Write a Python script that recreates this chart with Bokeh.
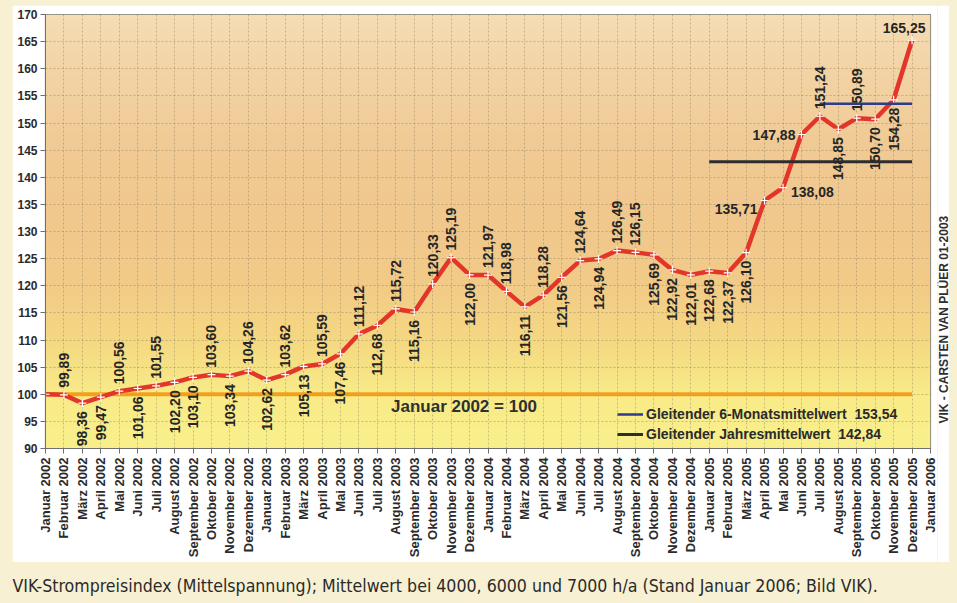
import numpy as np
from math import pi
from bokeh.plotting import figure
from bokeh.models import (ColumnDataSource, FixedTicker, LabelSet, Label, Legend,
                          LegendItem, Range1d)
from bokeh.layouts import column, row
from bokeh.embed import file_html
from bokeh.resources import INLINE
from bokeh.core.properties import value

# ---------------- data ----------------
month_names = ["Januar", "Februar", "März", "April", "Mai", "Juni", "Juli",
               "August", "September", "Oktober", "November", "Dezember"]
years = [2002, 2003, 2004, 2005]
final_tick_label = "Januar 2006"

index_values = [
    100.00, 99.89, 98.36, 99.47, 100.56, 101.06, 101.55, 102.20, 103.10, 103.60, 103.34, 104.26,
    102.62, 103.62, 105.13, 105.59, 107.46, 111.12, 112.68, 115.72, 115.16, 120.33, 125.19, 122.00,
    121.97, 118.98, 116.11, 118.28, 121.56, 124.64, 124.94, 126.49, 126.15, 125.69, 122.92, 122.01,
    122.68, 122.37, 126.10, 135.71, 138.08, 147.88, 151.24, 148.85, 150.89, 150.70, 154.28, 165.25,
]
# where each value label sits: A above, B below, L left, LL lower left, R right, T top, "" none
label_side = [
    "", "A", "B", "B", "A", "B", "A", "B", "B", "A", "B", "A",
    "B", "A", "B", "A", "B", "A", "B", "A", "B", "A", "A", "B",
    "A", "A", "B", "A", "B", "A", "B", "A", "A", "B", "B", "B",
    "B", "B", "B", "LL", "R", "L", "A", "B", "A", "B", "B", "T",
]

base_value = 100
base_label = "Januar 2002 = 100"
avg6_label = "Gleitender 6-Monatsmittelwert"
avg6_value = 153.54
avg6_months = 6
avg12_label = "Gleitender Jahresmittelwert"
avg12_value = 142.84
avg12_months = 12

y_ticks = list(range(90, 171, 5))
credit = "VIK - CARSTEN VAN PLÜER 01-2003"
caption = ("VIK-Strompreisindex (Mittelspannung); Mittelwert bei 4000, 6000 und 7000 h/a "
           "(Stand Januar 2006; Bild VIK).")

# ---------------- derived ----------------
tick_labels = [f"{m} {y}" for y in years for m in month_names] + [final_tick_label]
n = len(index_values)
xs = list(range(n))
fmt = lambda v: f"{v:.2f}".replace(".", ",")

FONT = "Liberation Sans"
CREAM = "#f8f0d2"
x_lo, x_hi = 0, len(tick_labels) - 1
y_lo, y_hi = y_ticks[0], y_ticks[-1]

p = figure(width=925, height=557, x_range=Range1d(x_lo, x_hi), y_range=Range1d(y_lo, y_hi),
           output_backend="svg", toolbar_location=None,
           min_border_left=33, min_border_right=7, min_border_top=9, min_border_bottom=114,
           border_fill_color="white", background_fill_color="#f3d49a",
           margin=(5, 0, 0, 12))

# background gradient of the plot area
stops_v = [90, 100, 110, 120, 130, 145, 160, 170]
stops_c = ["#f8f08c", "#f8eb88", "#f5d882", "#f2cb88", "#f1c88c", "#f0ca94", "#f3d4a6", "#f6ddb4"]
rows = 200
yy = np.linspace(y_lo, y_hi, rows)
rgb = [tuple(int(c[i:i + 2], 16) for i in (1, 3, 5)) for c in stops_c]
img = np.zeros((rows, 1), dtype=np.uint32)
view = img.view(dtype=np.uint8).reshape((rows, 1, 4))
for k in range(3):
    view[:, 0, k] = np.interp(yy, stops_v, [c[k] for c in rgb]).astype(np.uint8)
view[:, 0, 3] = 255
bg = p.image_rgba(image=[img], x=x_lo, y=y_lo, dw=x_hi - x_lo, dh=y_hi - y_lo)
bg.level = "image"

# axes & grid
p.xaxis.ticker = FixedTicker(ticks=list(range(len(tick_labels))))
p.xaxis.major_label_overrides = {i: t for i, t in enumerate(tick_labels)}
p.xaxis.major_label_orientation = pi / 2
p.xaxis.major_label_text_font = FONT
p.xaxis.major_label_text_font_style = "bold"
p.xaxis.major_label_text_font_size = "13px"
p.xaxis.major_label_text_color = "#2a2a2a"
p.xaxis.major_label_standoff = 4
p.yaxis.ticker = FixedTicker(ticks=y_ticks)
p.yaxis.major_label_text_font = FONT
p.yaxis.major_label_text_font_style = "bold"
p.yaxis.major_label_text_font_size = "12px"
p.yaxis.major_label_text_color = "#2a2a2a"
p.yaxis.major_label_standoff = 3
for ax in (p.xaxis, p.yaxis):
    ax.axis_line_color = "#707070"
    ax.major_tick_line_color = "#707070"
    ax.major_tick_out = 5
    ax.major_tick_in = 0
    ax.minor_tick_line_color = None
p.grid.grid_line_color = "#8c7c60"
p.grid.grid_line_alpha = 0.45
p.grid.grid_line_dash = "2 2"
p.outline_line_color = "#7a7a7a"
p.outline_line_width = 1.2

# lines
p.line(x=[xs[0], xs[-1]], y=[base_value, base_value], line_color="#f2a01c", line_width=4)
p.line(x=xs, y=index_values, line_color="#e3362b", line_width=4.5)
p.scatter(x=xs, y=index_values, marker="cross", size=8, line_color="white", line_width=1.2)
r6 = p.line(x=[xs[-avg6_months], xs[-1]], y=[avg6_value, avg6_value],
            line_color="#2e3a8c", line_width=2.5)
r12 = p.line(x=[xs[-avg12_months], xs[-1]], y=[avg12_value, avg12_value],
             line_color="#2d2d2d", line_width=3)

# value labels
styles = {
    "A": dict(angle=pi / 2, text_align="left", text_baseline="middle", x_offset=0, y_offset=7),
    "B": dict(angle=pi / 2, text_align="right", text_baseline="middle", x_offset=0, y_offset=-8),
    "L": dict(angle=0, text_align="right", text_baseline="middle", x_offset=-6, y_offset=0),
    "LL": dict(angle=0, text_align="right", text_baseline="middle", x_offset=-7, y_offset=-8),
    "R": dict(angle=0, text_align="left", text_baseline="middle", x_offset=8, y_offset=-4),
    "T": dict(angle=0, text_align="center", text_baseline="bottom", x_offset=-8, y_offset=7),
}
for code, st in styles.items():
    idx = [i for i, s in enumerate(label_side) if s == code]
    src = ColumnDataSource(dict(x=[xs[i] for i in idx], y=[index_values[i] for i in idx],
                                t=[fmt(index_values[i]) for i in idx]))
    p.add_layout(LabelSet(x="x", y="y", text="t", source=src,
                          text_font=value(FONT), text_font_style="bold",
                          text_font_size="14px", text_color="#262626", **st))

# base label
p.add_layout(Label(x=22.7, y=base_value, y_offset=-3, text=base_label, text_align="center",
                   text_baseline="top", text_font=FONT, text_font_style="bold",
                   text_font_size="17px", text_color="#303030"))

# legend
nb = "\u00a0\u00a0"
legend = Legend(items=[LegendItem(label=f"{avg6_label}{nb}{fmt(avg6_value)}", renderers=[r6]),
                       LegendItem(label=f"{avg12_label}{nb}{fmt(avg12_value)}", renderers=[r12])],
                location=(572, 4), padding=0, margin=0, spacing=0,
                glyph_width=26, glyph_height=20, label_height=20, label_standoff=3,
                label_text_font=FONT, label_text_font_style="bold",
                label_text_font_size="14px", label_text_color="#2a2a2a",
                background_fill_alpha=0, border_line_alpha=0)
p.add_layout(legend)

# credit strip on the right
cr = figure(width=12, height=557, x_range=Range1d(0, 1), y_range=Range1d(0, 557),
            output_backend="svg", toolbar_location=None, min_border=0,
            x_axis_location=None, y_axis_location=None,
            border_fill_color="white", background_fill_color="white", outline_line_color=None,
            margin=(5, 0, 0, 0))
cr.grid.visible = False
cr.text(x=[0.5], y=[32], text=[credit], angle=pi / 2, text_align="left",
        text_baseline="middle", text_font=value(FONT), text_font_style="bold",
        text_font_size="12px", text_color="#303030")

# caption strip
c = figure(width=957, height=41, x_range=Range1d(0, 1), y_range=Range1d(0, 1),
           output_backend="svg", toolbar_location=None, min_border=0,
           x_axis_location=None, y_axis_location=None,
           border_fill_color=CREAM, background_fill_color=CREAM, outline_line_color=None)
c.grid.visible = False
c.add_layout(Label(x=0, y=0.5, x_offset=12, y_offset=-3, text=caption, text_baseline="middle",
                   text_font="DejaVu Sans Condensed", text_font_size="17.6px",
                   text_color="#2a2a2a"))

top = row(p, cr, spacing=0, styles={"background-color": CREAM})
layout = column(top, c, spacing=0, styles={"background-color": CREAM})
html = file_html(layout, INLINE)
k = html.rfind("<body")
html = html[:k] + f'<body style="background-color:{CREAM};"' + html[k + 5:]
open("out.html", "w").write(html)
